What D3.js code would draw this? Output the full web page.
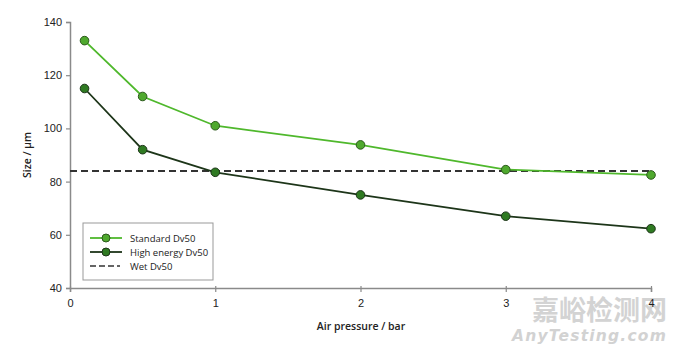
<!DOCTYPE html>
<html><head><meta charset="utf-8">
<script src="https://cdn.jsdelivr.net/npm/d3@7/dist/d3.min.js"></script>
<style>body{margin:0;background:#fff}svg{display:block}</style>
</head><body>
<svg id="c" width="680" height="349"></svg>
<script>
const pressure = [0.1, 0.5, 1, 2, 3, 4];
const standardDv50 = [133, 112, 101, 93.8, 84.5, 82.5];
const highEnergyDv50 = [115, 92, 83.5, 75, 67, 62.3];
const wetDv50 = 84;
const xTicks = [0, 1, 2, 3, 4];
const yTicks = [40, 60, 80, 100, 120, 140];
const seriesNames = ["Standard Dv50", "High energy Dv50", "Wet Dv50"];

const svg = d3.select("#c");
const x = d3.scaleLinear().domain([0, 4]).range([70, 651]);
const y = d3.scaleLinear().domain([40, 140]).range([288, 22]);
const axisColor = "#8a8a8a";
const tickFont = "Liberation Sans, Arial, sans-serif";
const labelFont = "'Open Sans', sans-serif";

// watermark (behind)
svg.append("text").attr("x", 667).attr("y", 320).attr("text-anchor", "end")
  .attr("font-family", "'Noto Sans CJK SC', sans-serif").attr("font-size", 27).attr("font-weight", 700)
  .attr("fill", "#cccccc").attr("opacity", 0.85).text("嘉峪检测网");
svg.append("text").attr("x", 667).attr("y", 341).attr("text-anchor", "end")
  .attr("font-family", "'DejaVu Sans', sans-serif").attr("font-size", 15.5).attr("font-style", "italic").attr("font-weight", 700)
  .attr("fill", "#d2d2d2").attr("letter-spacing", 1.2).text("AnyTesting.com");

// axes
const gx = svg.append("g").attr("transform", `translate(0,${y(40)})`)
  .call(d3.axisBottom(x).tickValues(xTicks).tickSize(4).tickFormat(d3.format("d")));
const gy = svg.append("g").attr("transform", `translate(${x(0)},0)`)
  .call(d3.axisLeft(y).tickValues(yTicks).tickSize(4));
[gx, gy].forEach(g => {
  g.select(".domain").attr("stroke", axisColor).attr("stroke-width", 1.5);
  g.selectAll(".tick line").attr("stroke", axisColor).attr("stroke-width", 1.2);
  g.selectAll(".tick text").attr("fill", "#222").attr("font-family", tickFont).attr("font-size", 11);
});
gx.selectAll(".tick line").attr("y2", 4).attr("y1", -2);
gx.selectAll(".tick text").attr("dy", "1.1em");
gy.selectAll(".tick text").attr("x", -8);

// wet dv50 dashed
svg.append("line")
  .attr("x1", x(0)).attr("x2", x(4)).attr("y1", y(wetDv50)).attr("y2", y(wetDv50))
  .attr("stroke", "#333").attr("stroke-width", 2).attr("stroke-dasharray", "7,4");

const line = d3.line().x((d, i) => x(pressure[i])).y(d => y(d));
const series = [
  {vals: standardDv50, line: "#4fb82c", fill: "#4fa92e", stroke: "#2c5a1c"},
  {vals: highEnergyDv50, line: "#1d3519", fill: "#2f7a22", stroke: "#1d3519"}
];
series.forEach(s => {
  svg.append("path").datum(s.vals).attr("d", line)
    .attr("fill", "none").attr("stroke", s.line).attr("stroke-width", 1.8);
  svg.selectAll(null).data(s.vals).enter().append("circle")
    .attr("cx", (d, i) => x(pressure[i])).attr("cy", d => y(d)).attr("r", 4.3)
    .attr("fill", s.fill).attr("stroke", s.stroke).attr("stroke-width", 1);
});

// axis titles
svg.append("text").attr("x", 361).attr("y", 330).attr("text-anchor", "middle")
  .attr("font-family", labelFont).attr("font-size", 10.5).attr("fill", "#222").attr("font-weight", 600)
  .text("Air pressure / bar");
svg.append("text").attr("transform", "translate(31,155) rotate(-90)").attr("text-anchor", "middle")
  .attr("font-family", labelFont).attr("font-size", 10.5).attr("fill", "#222").attr("font-weight", 600)
  .text("Size / µm");

// legend
const lg = svg.append("g");
lg.append("rect").attr("x", 83).attr("y", 223).attr("width", 130).attr("height", 57)
  .attr("fill", "#fff").attr("stroke", "#999").attr("stroke-width", 1);
const items = [
  {name: seriesNames[0], s: series[0]},
  {name: seriesNames[1], s: series[1]},
  {name: seriesNames[2], dash: true}
];
items.forEach((it, i) => {
  const yy = 238 + i * 14;
  if (it.dash) {
    lg.append("line").attr("x1", 90).attr("x2", 120).attr("y1", yy).attr("y2", yy)
      .attr("stroke", "#333").attr("stroke-width", 1.6).attr("stroke-dasharray", "6,3");
  } else {
    lg.append("line").attr("x1", 90).attr("x2", 122).attr("y1", yy).attr("y2", yy)
      .attr("stroke", it.s.line).attr("stroke-width", 1.8);
    lg.append("circle").attr("cx", 106).attr("cy", yy).attr("r", 4)
      .attr("fill", it.s.fill).attr("stroke", it.s.stroke).attr("stroke-width", 1);
  }
  lg.append("text").attr("x", 130).attr("y", yy + 3.5)
    .attr("font-family", labelFont).attr("font-size", 9.5).attr("fill", "#222")
    .text(it.name);
});
</script>
</body></html>
